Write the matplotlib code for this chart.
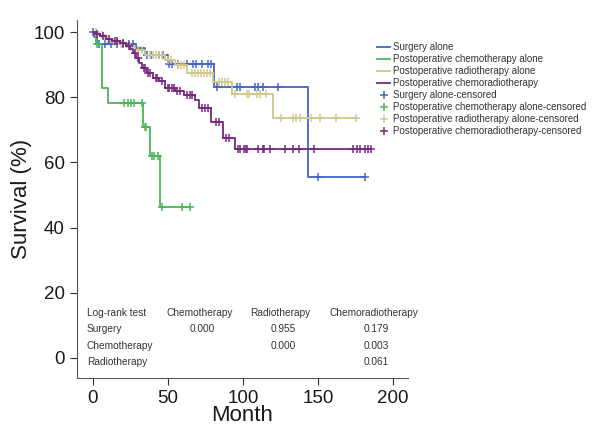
import numpy as np
import matplotlib.pyplot as plt

# ---- dados ----
# Surgery alone
t_surg = [0, 1, 3, 29, 35, 50, 81, 143]
s_surg = [100, 98.5, 96.3, 95.0, 92.9, 90.1, 83.2, 55.6]
end_surg = 181
c_surg = [0, 4, 8, 12, 16, 20, 24, 27, 36, 39, 44, 47, 51, 53, 57, 63, 67, 69,
          73, 77, 79, 83, 93, 96, 98, 108, 110, 113, 123, 150, 181]

# Postoperative chemotherapy alone
t_chemo = [0, 2, 5.8, 10.2, 33.5, 38.4, 44.7]
s_chemo = [100, 96.3, 82.7, 78.2, 71.0, 62.0, 46.4]
end_chemo = 64.7
c_chemo = [3, 20.9, 23.1, 25.1, 27.3, 33, 34.7, 35.5, 39.1, 40.7, 43.1,
           46.2, 59.5, 64.7]

# Postoperative radiotherapy alone
t_radio = [0, 4, 8, 12, 17, 22, 28, 35, 48, 55, 63, 80, 93, 120]
s_radio = [100, 99, 98, 97, 96.2, 95.4, 94.5, 93, 91.4, 90, 87.4, 84.7, 81, 73.5]
end_radio = 175
c_radio = [2, 6, 10, 14, 19, 25, 30, 33, 38, 40, 42, 44, 46, 50, 52, 57, 59, 61,
           66, 68, 70, 72, 74, 76, 78, 84, 86, 88, 90, 95, 103, 104, 109, 111,
           115, 125, 133, 135, 138, 145, 151, 162, 175]

# Postoperative chemoradiotherapy
t_crt = [0, 2, 5, 9, 13, 18, 22, 25, 27, 29, 31, 33, 36, 40, 44, 48, 55, 61,
         68, 71, 79, 87, 95]
s_crt = [100, 99.4, 98.7, 98, 97.2, 96.5, 95.8, 94.8, 93.5, 92, 90.5, 89, 87.4,
         86, 85, 82.8, 81.9, 80.7, 79.1, 76.8, 72.5, 67.4, 64.1]
end_crt = 185
c_crt = [3, 7, 11, 15, 16, 20, 24, 28, 30, 34, 35, 37, 38, 42, 43, 46, 50, 51,
         53, 54, 56, 58, 63, 65, 66, 73, 75, 77, 82, 84, 89, 91, 97, 98, 101,
         102, 103, 110, 113, 114, 118, 128, 133, 137, 147, 173, 176, 178, 181,
         183, 185]

groups = ["Surgery alone", "Postoperative chemotherapy alone",
          "Postoperative radiotherapy alone", "Postoperative chemoradiotherapy"]
cores = ["#4166c6", "#48b857", "#d0c78c", "#77287f"]

# tabela log-rank
tab_header = ["Log-rank test", "Chemotherapy", "Radiotherapy", "Chemoradiotherapy"]
tab_rows = ["Surgery", "Chemotherapy", "Radiotherapy"]
tab_vals = [["0.000", "0.955", "0.179"],
            ["", "0.000", "0.003"],
            ["", "", "0.061"]]

curvas = [(t_surg, s_surg, end_surg, c_surg),
          (t_chemo, s_chemo, end_chemo, c_chemo),
          (t_radio, s_radio, end_radio, c_radio),
          (t_crt, s_crt, end_crt, c_crt)]

fonte = "Liberation Sans"
cor_txt = "#333333"

fig = plt.figure(figsize=(5.95, 4.26), dpi=100)
ax = fig.add_axes([0.129, 0.113, 0.557, 0.84])

linhas = []
marcas = []
for (t, s, fim, cens), cor, nome in zip(curvas, cores, groups):
    tt = list(t) + [fim]
    ss = list(s) + [s[-1]]
    ln, = ax.step(tt, ss, where="post", color=cor, lw=1.3, label=nome)
    idx = np.searchsorted(np.array(t), np.array(cens), side="right") - 1
    sc = np.array(s)[idx]
    mk, = ax.plot(cens, sc, ls="none", marker="+", ms=6, mew=1.1, color=cor,
                  label=nome + "-censored")
    linhas.append(ln)
    marcas.append(mk)

ax.set_xlim(-10.7, 210)
ax.set_ylim(-6.1, 103.7)
ax.set_xticks([0, 50, 100, 150, 200])
ax.set_yticks([0, 20, 40, 60, 80, 100])
ax.spines["top"].set_visible(False)
ax.spines["right"].set_visible(False)
for sp in ["left", "bottom"]:
    ax.spines[sp].set_color("#555555")
ax.tick_params(direction="out", length=5, color="#333333", labelsize=13.5,
               labelfontfamily=fonte, labelcolor="#1a1a1a")
ax.set_xlabel("Month", fontsize=16, family=fonte, labelpad=-1, color="#1a1a1a")
ax.set_ylabel("Survival (%)", fontsize=16, family=fonte, labelpad=1,
              color="#1a1a1a")

# legenda
leg = fig.legend(handles=linhas + marcas, loc="upper left",
                 bbox_to_anchor=(0.625, 0.912), frameon=False,
                 prop={"family": fonte, "size": 7}, handlelength=1.4,
                 handletextpad=0.25, labelspacing=0.2, borderpad=0)
for txt in leg.get_texts():
    txt.set_color(cor_txt)

# tabela log-rank
fs = 7.3
ax.text(-4, 13.8, tab_header[0], fontsize=fs, family=fonte, va="center",
        color=cor_txt)
col_x = [71, 125, 187]
for x, h in zip(col_x, tab_header[1:]):
    ax.text(x, 13.8, h, fontsize=fs, family=fonte, va="center", ha="center",
            color=cor_txt)
for i, (r, vals) in enumerate(zip(tab_rows, tab_vals)):
    y = 13.8 - 5.0 * (i + 1)
    ax.text(-4, y, r, fontsize=fs, family=fonte, va="center", color=cor_txt)
    for x, v in zip(col_x, vals):
        ax.text(x + 2, y, v, fontsize=fs, family=fonte, va="center",
                ha="center", color=cor_txt)

fig.savefig("out.png", dpi=100)
